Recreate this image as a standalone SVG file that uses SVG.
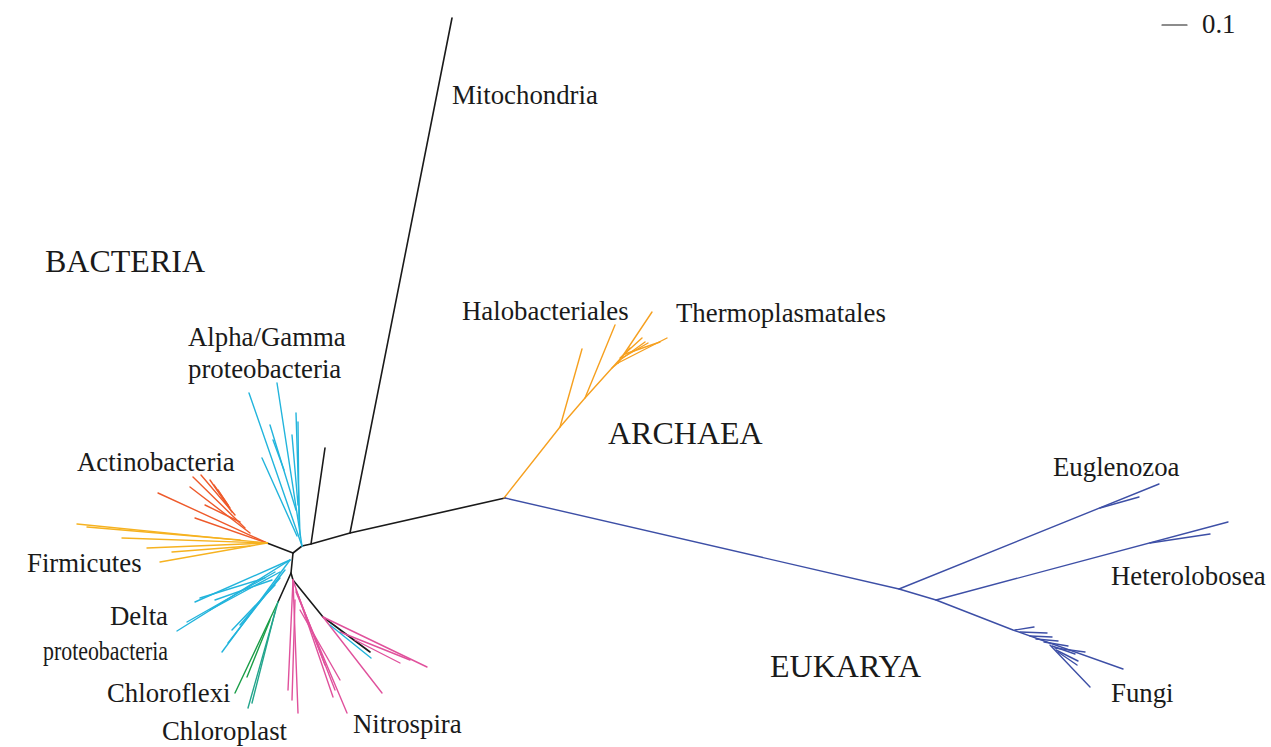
<svg xmlns="http://www.w3.org/2000/svg" width="1271" height="747" viewBox="0 0 1271 747">
<style>
line,polyline{fill:none;stroke-linecap:round;stroke-linejoin:round;stroke-width:1.4}
.k{stroke:#1a1a1a;stroke-width:1.6}
.cy{stroke:#22b4dc}
.ac{stroke:#ee5a2b}
.fi{stroke:#f6b220}
.gr{stroke:#1a9e48}
.tl{stroke:#23a58c}
.pk{stroke:#e0519c}
.ar{stroke:#f6a01f}
.eu{stroke:#3d4fa6}
text{font-family:"Liberation Serif","Times New Roman",serif;fill:#1a1a1a}
.lb{font-size:26.8px}
.dm{font-size:32px}
.r{text-anchor:end}
</style>
<rect width="1271" height="747" fill="#fff"/>
<g id="connectors">
 <g id="backbone">
  <polyline class="k" points="505,498 350,533 311,544 302,546 293,553"/>
  <line class="k" x1="350" y1="533" x2="452" y2="18"/>
  <line class="k" x1="311" y1="544" x2="325" y2="448"/>
  <line class="k" x1="293" y1="553" x2="267" y2="543"/>
  <polyline class="k" points="293,553 291,573 278,602"/>
  <polyline class="k" points="291,573 293,580 323,617 370,652"/>
 </g>
 <g id="alpha-gamma">
  <line class="cy" x1="302" y1="546" x2="249" y2="393"/>
  <line class="cy" x1="302" y1="546" x2="277" y2="383"/>
  <line class="cy" x1="300" y1="535" x2="296" y2="413"/>
  <line class="cy" x1="299" y1="520" x2="298" y2="422"/>
  <line class="cy" x1="298" y1="505" x2="292" y2="435"/>
  <line class="cy" x1="296" y1="510" x2="270" y2="425"/>
  <line class="cy" x1="297" y1="536" x2="262" y2="458"/>
  <line class="cy" x1="284" y1="470" x2="273" y2="440"/>
 </g>
 <g id="actinobacteria">
  <line class="ac" x1="267" y1="543" x2="158" y2="493"/>
  <line class="ac" x1="267" y1="543" x2="195" y2="518"/>
  <line class="ac" x1="250" y1="533" x2="190" y2="487"/>
  <line class="ac" x1="245" y1="528" x2="193" y2="477"/>
  <line class="ac" x1="235" y1="515" x2="201" y2="475"/>
  <line class="ac" x1="232" y1="512" x2="210" y2="480"/>
  <line class="ac" x1="230" y1="508" x2="214" y2="485"/>
  <line class="ac" x1="240" y1="522" x2="205" y2="505"/>
  <line class="ac" x1="228" y1="505" x2="218" y2="490"/>
 </g>
 <g id="firmicutes">
  <line class="fi" x1="267" y1="543" x2="77" y2="524"/>
  <line class="fi" x1="240" y1="540" x2="87" y2="527"/>
  <line class="fi" x1="267" y1="543" x2="122" y2="538"/>
  <line class="fi" x1="267" y1="543" x2="147" y2="548"/>
  <line class="fi" x1="250" y1="546" x2="172" y2="552"/>
  <line class="fi" x1="267" y1="543" x2="160" y2="562"/>
 </g>
 <g id="delta">
  <line class="cy" x1="290" y1="560" x2="177" y2="631"/>
  <line class="cy" x1="290" y1="560" x2="195" y2="602"/>
  <line class="cy" x1="275" y1="572" x2="187" y2="622"/>
  <line class="cy" x1="290" y1="560" x2="222" y2="652"/>
  <line class="cy" x1="285" y1="570" x2="228" y2="643"/>
  <line class="cy" x1="280" y1="572" x2="210" y2="610"/>
  <line class="cy" x1="265" y1="578" x2="200" y2="598"/>
  <line class="cy" x1="272" y1="580" x2="215" y2="600"/>
  <line class="cy" x1="280" y1="578" x2="240" y2="625"/>
  <line class="cy" x1="275" y1="585" x2="232" y2="630"/>
 </g>
 <g id="chloroflexi">
  <line class="gr" x1="278" y1="602" x2="235" y2="693"/>
  <line class="gr" x1="270" y1="620" x2="247" y2="677"/>
 </g>
 <g id="chloroplast">
  <line class="tl" x1="278" y1="602" x2="248" y2="708"/>
  <line class="tl" x1="275" y1="612" x2="252" y2="703"/>
 </g>
 <g id="nitrospira">
  <line class="pk" x1="293" y1="580" x2="288" y2="690"/>
  <line class="pk" x1="293" y1="580" x2="298" y2="713"/>
  <line class="pk" x1="295" y1="600" x2="292" y2="700"/>
  <line class="pk" x1="293" y1="580" x2="333" y2="697"/>
  <line class="pk" x1="296" y1="592" x2="347" y2="713"/>
  <line class="pk" x1="298" y1="595" x2="335" y2="690"/>
  <line class="pk" x1="300" y1="610" x2="340" y2="680"/>
  <line class="pk" x1="296" y1="590" x2="325" y2="665"/>
  <line class="pk" x1="323" y1="617" x2="427" y2="667"/>
  <line class="pk" x1="340" y1="632" x2="410" y2="660"/>
  <line class="pk" x1="355" y1="640" x2="400" y2="663"/>
  <line class="pk" x1="323" y1="617" x2="382" y2="693"/>
  <line class="cy" x1="330" y1="625" x2="371" y2="658"/>
 </g>
 <g id="archaea">
  <polyline class="ar" points="504,498 560,427 585,398 612,368 618,363"/>
  <line class="ar" x1="560" y1="427" x2="582" y2="349"/>
  <line class="ar" x1="585" y1="398" x2="615" y2="325"/>
  <line class="ar" x1="618" y1="363" x2="652" y2="312"/>
  <line class="ar" x1="618" y1="363" x2="667" y2="338"/>
  <line class="ar" x1="620" y1="360" x2="645" y2="342"/>
  <line class="ar" x1="620" y1="358" x2="642" y2="338"/>
  <line class="ar" x1="622" y1="358" x2="648" y2="343"/>
  <line class="ar" x1="625" y1="354" x2="660" y2="342"/>
  <line class="ar" x1="612" y1="368" x2="630" y2="348"/>
 </g>
 <g id="eukarya">
  <polyline class="eu" points="505,498 899,589 936,600 1013,630 1123,669"/>
  <line class="eu" x1="899" y1="589" x2="1159" y2="484"/>
  <line class="eu" x1="1100" y1="508" x2="1139" y2="497"/>
  <line class="eu" x1="936" y1="600" x2="1228" y2="522"/>
  <line class="eu" x1="1150" y1="543" x2="1210" y2="534"/>
  <line class="eu" x1="1015" y1="630" x2="1034" y2="627"/>
  <line class="eu" x1="1020" y1="632" x2="1047" y2="633"/>
  <line class="eu" x1="1030" y1="636" x2="1052" y2="637"/>
  <line class="eu" x1="1036" y1="639" x2="1058" y2="641"/>
  <line class="eu" x1="1044" y1="642" x2="1068" y2="646"/>
  <line class="eu" x1="1050" y1="645" x2="1090" y2="687"/>
  <line class="eu" x1="1052" y1="646" x2="1075" y2="654"/>
  <line class="eu" x1="1055" y1="648" x2="1085" y2="652"/>
  <line class="eu" x1="1056" y1="650" x2="1078" y2="661"/>
  <line class="eu" x1="1058" y1="652" x2="1077" y2="665"/>
 </g>
 <g id="scale-bar">
  <line class="k" style="stroke-width:1.2" x1="1162" y1="25" x2="1187" y2="25"/>
 </g>
</g>
<g id="label-scale"><text class="lb" x="1202" y="33">0.1</text></g>
<g id="label-mitochondria"><text class="lb" x="452" y="104">Mitochondria</text></g>
<g id="label-bacteria"><text class="dm" x="45" y="272">BACTERIA</text></g>
<g id="label-halobacteriales"><text class="lb" x="462" y="320">Halobacteriales</text></g>
<g id="label-thermoplasmatales"><text class="lb" x="676" y="322">Thermoplasmatales</text></g>
<g id="label-alphagamma"><text class="lb" x="188" y="346">Alpha/Gamma</text><text class="lb" x="188" y="378">proteobacteria</text></g>
<g id="label-archaea"><text class="dm" x="608" y="444">ARCHAEA</text></g>
<g id="label-actinobacteria"><text class="lb" x="77" y="471">Actinobacteria</text></g>
<g id="label-euglenozoa"><text class="lb" x="1053" y="476">Euglenozoa</text></g>
<g id="label-firmicutes"><text class="lb" x="27" y="572">Firmicutes</text></g>
<g id="label-heterolobosea"><text class="lb" x="1111" y="585">Heterolobosea</text></g>
<g id="label-delta"><text class="lb r" x="168" y="625">Delta</text><text class="lb" x="43" y="660" textLength="125" lengthAdjust="spacingAndGlyphs">proteobacteria</text></g>
<g id="label-eukarya"><text class="dm" x="770" y="677">EUKARYA</text></g>
<g id="label-chloroflexi"><text class="lb" x="107" y="702">Chloroflexi</text></g>
<g id="label-fungi"><text class="lb" x="1111" y="702">Fungi</text></g>
<g id="label-chloroplast"><text class="lb" x="162" y="740">Chloroplast</text></g>
<g id="label-nitrospira"><text class="lb" x="353" y="733">Nitrospira</text></g>
</svg>
